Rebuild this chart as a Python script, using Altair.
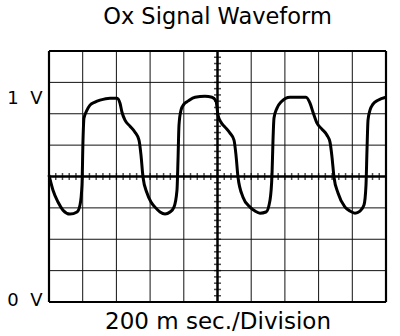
import altair as alt
import pandas as pd

# Waveform (time in ms, voltage in V)
time_ms = [0, 23.7, 53.4, 83.1, 124.6, 166.2, 184.0, 195.8, 201.8, 207.7, 225.5, 243.3, 273.0,
           302.7, 362.0, 403.6, 421.4, 433.2, 451.0, 480.7, 510.4, 534.1, 546.0, 557.9, 581.6,
           605.3, 629.1, 658.8, 688.4, 718.1, 741.8, 759.6, 765.6, 771.5, 783.4, 801.2, 824.9,
           866.5, 925.8, 967.4, 991.1, 1003.0, 1020.8, 1044.5, 1074.2, 1097.9, 1109.8, 1121.7,
           1151.3, 1192.9, 1222.6, 1252.2, 1287.8, 1311.6, 1323.4, 1329.4, 1335.3, 1353.1,
           1376.9, 1430.3, 1489.6, 1525.2, 1548.9, 1566.8, 1590.5, 1620.2, 1649.9, 1667.7,
           1679.5, 1691.4, 1715.1, 1756.7, 1786.4, 1816.0, 1845.7, 1869.4, 1881.3, 1887.2,
           1893.2, 1905.0, 1922.8, 1952.5, 2000]
volts = [0.674, 0.594, 0.531, 0.488, 0.467, 0.478, 0.515, 0.621, 0.860, 0.977, 1.019, 1.046, 1.062,
         1.072, 1.083, 1.083, 1.056, 1.008, 0.966, 0.934, 0.902, 0.860, 0.780, 0.663, 0.579,
         0.531, 0.504, 0.478, 0.467, 0.478, 0.504, 0.594, 0.754, 0.940, 1.019, 1.051, 1.067,
         1.088, 1.093, 1.088, 1.067, 0.993, 0.955, 0.929, 0.897, 0.860, 0.780, 0.663,
         0.557, 0.504, 0.483, 0.472, 0.478, 0.541, 0.674, 0.860, 0.977, 1.030,
         1.062, 1.088, 1.088, 1.088, 1.056, 1.008, 0.950, 0.918, 0.886, 0.849,
         0.770, 0.663, 0.579, 0.504, 0.483, 0.472, 0.483, 0.515, 0.621, 0.807,
         0.966, 1.019, 1.051, 1.072, 1.088]

# Graticule (200 ms per division, 1/6 V per division)
x_grid_ms = [200, 400, 600, 800, 1200, 1400, 1600, 1800]
y_grid_v = [1 / 6, 2 / 6, 3 / 6, 5 / 6, 6 / 6, 7 / 6]
x_border_ms = [0, 2000]
y_border_v = [0, 4 / 3]
x_center_ms = [1000]
y_center_v = [4 / 6]
x_minor_ms = [i * 40 for i in range(1, 50)]
y_minor_v = [i / 30 for i in range(1, 40)]

y_tick_values = [0, 1]
y_tick_labels = ["0 V", "1 V"]

title_text = "Ox Signal Waveform"
x_title = "200 m sec./Division"

FONT = "DejaVu Sans"

xs = alt.Scale(domain=[0, 2000], nice=False, zero=False)
ys = alt.Scale(domain=[0, 4 / 3], nice=False, zero=False)

wave_df = pd.DataFrame({"t": time_ms, "v": volts})

label_expr = " : ".join(
    f"datum.value == {v} ? '{lab.replace(' ', chr(160) * 2)}'" for v, lab in zip(y_tick_values[:-1], y_tick_labels[:-1])
) + f" : '{y_tick_labels[-1].replace(' ', chr(160) * 2)}'"

x_axis = alt.Axis(
    title=x_title, labels=False, ticks=False, domain=False, grid=False,
    titleFont=FONT, titleFontSize=23, titleFontWeight="normal", titleColor="black",
    titleBaseline="alphabetic", titlePadding=26)
y_axis = alt.Axis(
    title=None, values=y_tick_values, labelExpr=label_expr, ticks=False, tickSize=0, domain=False,
    grid=False, labelFont=FONT, labelFontSize=18, labelColor="black",
    labelBaseline="alphabetic", labelPadding=7,
    labelOffset={"condition": {"test": "datum.value == 1", "value": -10}, "value": 3})

X = lambda: alt.X("t:Q", scale=xs, axis=x_axis)
Y = lambda: alt.Y("v:Q", scale=ys, axis=y_axis)

vgrid = alt.Chart(pd.DataFrame({"t": x_grid_ms})).mark_rule(color="#111", strokeWidth=1).encode(x=X())
hgrid = alt.Chart(pd.DataFrame({"v": y_grid_v})).mark_rule(color="#111", strokeWidth=1).encode(y=Y())
vborder = alt.Chart(pd.DataFrame({"t": x_border_ms})).mark_rule(color="black", strokeWidth=2.2).encode(x=X())
hborder = alt.Chart(pd.DataFrame({"v": y_border_v})).mark_rule(color="black", strokeWidth=2.2).encode(y=Y())
vcenter = alt.Chart(pd.DataFrame({"t": x_center_ms})).mark_rule(color="black", strokeWidth=2.5).encode(x=X())
hcenter = alt.Chart(pd.DataFrame({"v": y_center_v})).mark_rule(color="black", strokeWidth=2.5).encode(y=Y())
xticks = alt.Chart(pd.DataFrame({"t": x_minor_ms, "v": [y_center_v[0]] * len(x_minor_ms)})).mark_tick(
    orient="vertical", color="black", size=7, thickness=1.5).encode(x=X(), y=Y())
yticks = alt.Chart(pd.DataFrame({"v": y_minor_v, "t": [x_center_ms[0]] * len(y_minor_v)})).mark_tick(
    orient="horizontal", color="black", size=7, thickness=1.5).encode(x=X(), y=Y())

wave = alt.Chart(wave_df).mark_line(color="black", strokeWidth=3, interpolate="monotone").encode(
    x=X(), y=Y())

chart = alt.layer(vgrid, hgrid, vcenter, hcenter, xticks, yticks, vborder, hborder, wave).properties(
    width=337, height=251,
    title=alt.TitleParams(title_text, font=FONT, fontSize=22.5, fontWeight="normal",
                          color="black", anchor="middle", baseline="alphabetic", offset=3),
    autosize=alt.AutoSizeParams(type="none"),
    padding={"left": 49, "top": 51, "right": 14, "bottom": 34},
).configure_view(stroke=None).configure(background="white")

chart.save("out.html", embed_options={"renderer": "svg", "actions": False})
